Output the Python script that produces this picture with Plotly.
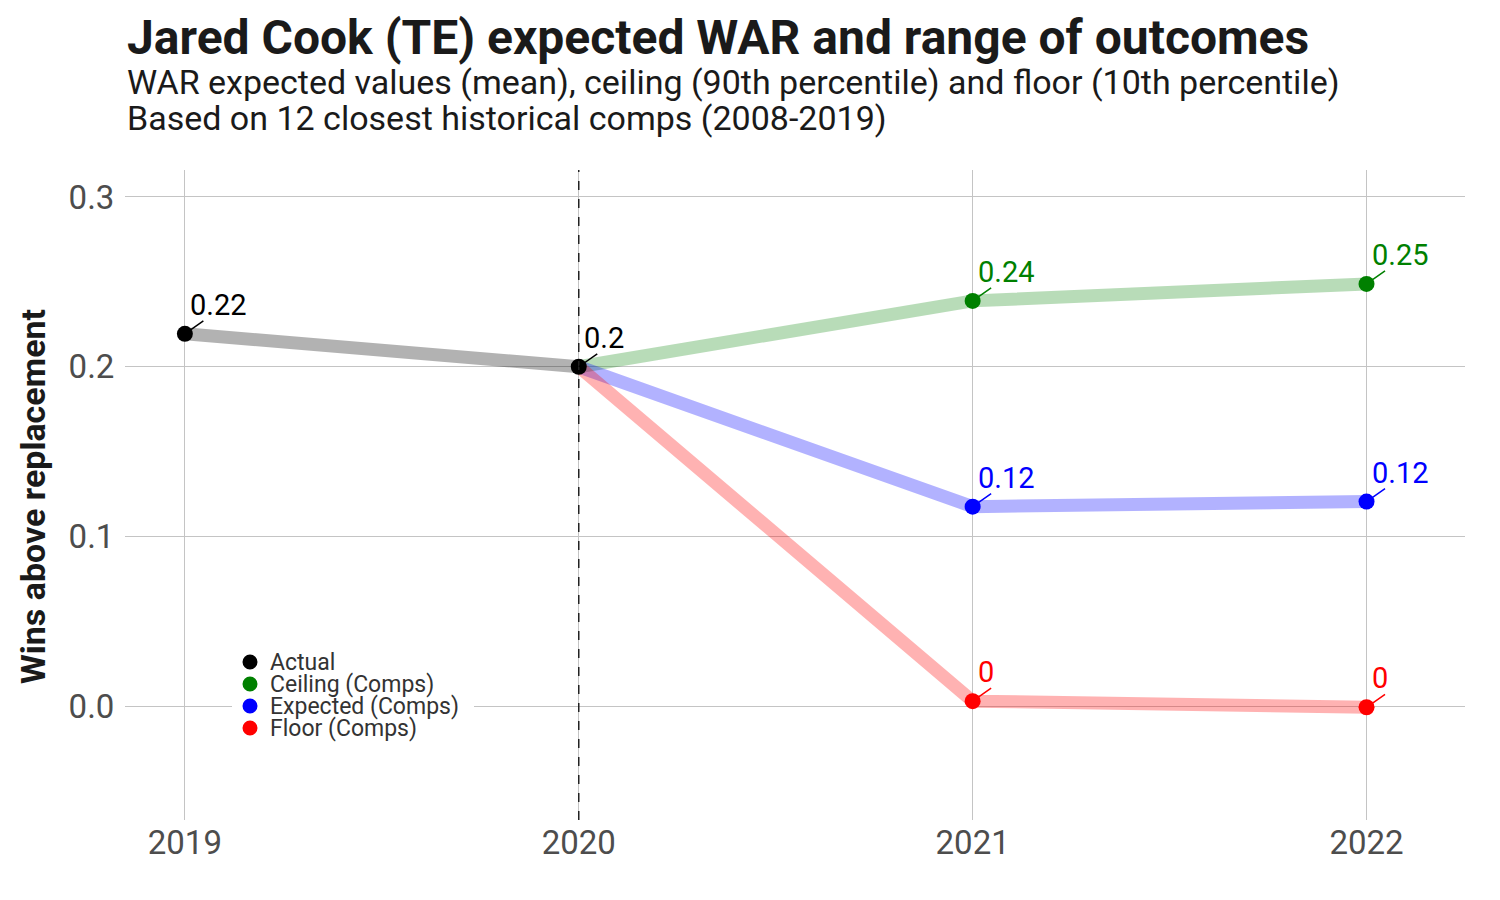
import plotly.graph_objects as go

# ---- data ----
actual_years = [2019, 2020]
actual_war = [0.2194, 0.2]
actual_labels = ["0.22", "0.2"]

proj_years = [2020, 2021, 2022]
ceiling_war = [0.2, 0.2388, 0.2488]
expected_war = [0.2, 0.1176, 0.1206]
floor_war = [0.2, 0.003, -0.0006]
ceiling_labels = ["0.24", "0.25"]
expected_labels = ["0.12", "0.12"]
floor_labels = ["0", "0"]

x_ticks = [2019, 2020, 2021, 2022]
y_ticks = [0.0, 0.1, 0.2, 0.3]
y_tick_labels = ["0.0", "0.1", "0.2", "0.3"]

FONT = "Roboto"

# page geometry (plot area in page pixels)
PL, PR, PT, PB = 125, 1465, 170, 820
def px_x(p):
    return (p - PL) / (PR - PL)
def px_y(p):
    return (PB - p) / (PB - PT)

fig = go.Figure()

series = [
    ("Actual", actual_years, actual_war, actual_labels, "black", "rgba(0,0,0,0.3)"),
    ("Ceiling (Comps)", proj_years, ceiling_war, ceiling_labels, "#008000", "rgba(0,128,0,0.28)"),
    ("Expected (Comps)", proj_years, expected_war, expected_labels, "#0000ff", "rgba(0,0,255,0.3)"),
    ("Floor (Comps)", proj_years, floor_war, floor_labels, "#ff0000", "rgba(255,0,0,0.3)"),
]

# thick translucent lines
for name, xs, ys, labels, col, lcol in series:
    fig.add_trace(go.Scatter(x=xs, y=ys, mode="lines", line=dict(color=lcol, width=13),
                             showlegend=False, hoverinfo="skip"))

# label leader segments (drawn under markers)
for name, xs, ys, labels, col, lcol in series:
    pts = list(zip(xs, ys)) if name == "Actual" else list(zip(xs[1:], ys[1:]))
    for x, y in pts:
        fig.add_annotation(x=x, y=y, text="", showarrow=True, arrowhead=0, arrowwidth=1.5,
                           arrowcolor=col, ax=20, ay=-14, standoff=0)

# markers (projection markers only at 2021/2022)
for name, xs, ys, labels, col, lcol in series:
    if name == "Actual":
        mx, my = xs, ys
    else:
        mx, my = xs[1:], ys[1:]
    fig.add_trace(go.Scatter(x=mx, y=my, mode="markers", name=name, showlegend=False,
                             marker=dict(color=col, size=16)))

# value labels
for name, xs, ys, labels, col, lcol in series:
    if name == "Actual":
        pts = list(zip(xs, ys, labels))
    else:
        pts = list(zip(xs[1:], ys[1:], labels))
    for x, y, t in pts:
        fig.add_annotation(x=x, y=y, text=t, showarrow=False, xanchor="left", yanchor="bottom",
                           xshift=4, yshift=11, borderpad=0,
                           font=dict(family=FONT, size=29, color=col))

# dashed vertical line at 2020
fig.add_shape(type="line", x0=2020, x1=2020, y0=0, y1=1, yref="paper",
              line=dict(color="#222222", width=1.5, dash="dash"), layer="above")

# manual legend (tight spacing like the reference)
fig.add_shape(type="rect", xref="paper", yref="paper",
              x0=px_x(232), x1=px_x(474), y0=px_y(742), y1=px_y(650),
              fillcolor="white", line=dict(width=0), layer="above")
leg_rows = [662, 684, 706, 728]
for (name, xs, ys, labels, col, lcol), ry in zip(series, leg_rows):
    fig.add_shape(type="circle", xref="paper", yref="paper",
                  xsizemode="pixel", ysizemode="pixel",
                  xanchor=px_x(250), yanchor=px_y(ry),
                  x0=-7.5, x1=7.5, y0=-7.5, y1=7.5,
                  fillcolor=col, line=dict(width=0), layer="above")
    fig.add_annotation(x=px_x(268), y=px_y(ry), xref="paper", yref="paper",
                       xanchor="left", yanchor="middle", text=name, showarrow=False,
                       font=dict(family=FONT, size=23, color="#333333"))

# titles
fig.add_annotation(x=0, y=px_y(38), xref="paper", yref="paper", xanchor="left", yanchor="middle",
                   text="<b>Jared Cook (TE) expected WAR and range of outcomes</b>",
                   showarrow=False, font=dict(family=FONT, size=48, color="#1a1a1a"))
fig.add_annotation(x=0, y=px_y(82), xref="paper", yref="paper", xanchor="left", yanchor="middle",
                   text="WAR expected values (mean), ceiling (90th percentile) and floor (10th percentile)",
                   showarrow=False, font=dict(family=FONT, size=34, color="#1a1a1a"))
fig.add_annotation(x=0, y=px_y(118), xref="paper", yref="paper", xanchor="left", yanchor="middle",
                   text="Based on 12 closest historical comps (2008-2019)",
                   showarrow=False, font=dict(family=FONT, size=34, color="#1a1a1a"))
fig.add_annotation(x=px_x(33), y=px_y(497), xref="paper", yref="paper", xanchor="center", yanchor="middle",
                   text="<b>Wins above replacement</b>", textangle=-90,
                   showarrow=False, font=dict(family=FONT, size=34, color="#1a1a1a"))

# body has an 8px margin in the page, so shift the margins accordingly
fig.update_layout(
    width=1500, height=900,
    margin=dict(l=PL - 8, r=1500 - PR + 8, t=PT - 8, b=900 - PB + 8),
    plot_bgcolor="white", paper_bgcolor="white",
    font=dict(family=FONT, color="#4d4d4d"),
    showlegend=False,
    xaxis=dict(range=[2018.848, 2022.25], tickvals=x_ticks, ticktext=[str(v) for v in x_ticks],
               showgrid=True, gridcolor="#c4c4c4", gridwidth=1, zeroline=False,
               ticks="", tickfont=dict(family=FONT, size=33, color="#4d4d4d")),
    yaxis=dict(range=[-0.067, 0.3159], tickvals=y_ticks, ticktext=y_tick_labels,
               showgrid=True, gridcolor="#c4c4c4", gridwidth=1, zeroline=False,
               ticks="outside", ticklen=3, tickcolor="rgba(0,0,0,0)",
               tickfont=dict(family=FONT, size=33, color="#4d4d4d")),
)

fig.write_html("out.html")
